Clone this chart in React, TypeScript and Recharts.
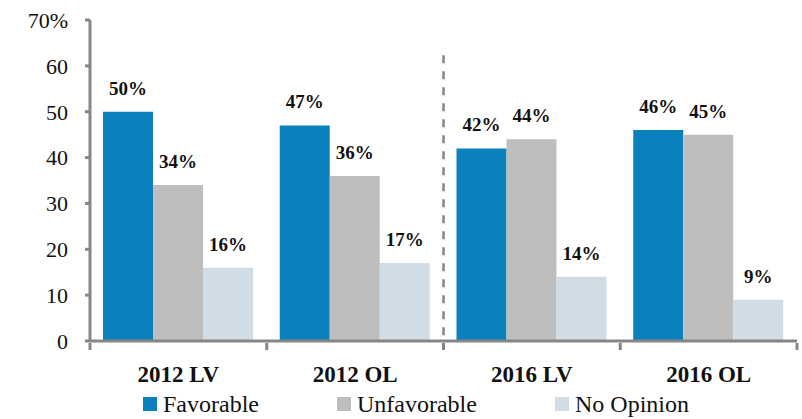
import React from 'react'
import {
  BarChart,
  Bar,
  XAxis,
  YAxis,
  Legend,
  LabelList,
  ReferenceLine,
} from 'recharts'

const categories = ['2012 LV', '2012 OL', '2016 LV', '2016 OL']
const favorable = [50, 47, 42, 46]
const unfavorable = [34, 36, 44, 45]
const noOpinion = [16, 17, 14, 9]
const yTicks = [0, 10, 20, 30, 40, 50, 60, 70]

const series = [
  { key: 'favorable', name: 'Favorable', color: '#0A80BD' },
  { key: 'unfavorable', name: 'Unfavorable', color: '#BEBEBE' },
  { key: 'noOpinion', name: 'No Opinion', color: '#D0DDE7' },
]

const data = categories.map((cat, i) => ({
  cat,
  favorable: favorable[i],
  unfavorable: unfavorable[i],
  noOpinion: noOpinion[i],
}))

const FONT = '"Liberation Serif", "DejaVu Serif", serif'
const AXIS = '#868686'
const W = 802
const H = 419
const MARGIN = { top: 20, right: 5, left: 0, bottom: 0 }
const Y_WIDTH = 90
const BAND = (W - MARGIN.left - MARGIN.right - Y_WIDTH) / categories.length
const LEGEND_ITEM_W = [194, 218, 160]

// tick marks sit on the category boundaries, labels in the middle
function CatTick(props: any) {
  const { x, y, payload, index } = props
  const last = index === categories.length - 1
  return (
    <g>
      <line x1={x - BAND / 2} x2={x - BAND / 2} y1={y - 6} y2={y + 1} stroke={AXIS} strokeWidth={3} />
      {last && (
        <line x1={x + BAND / 2} x2={x + BAND / 2} y1={y - 6} y2={y + 1} stroke={AXIS} strokeWidth={3} />
      )}
      <text x={x} y={y + 33} textAnchor="middle" fontFamily={FONT} fontSize={23} fontWeight="bold" fill="#111">
        {payload.value}
      </text>
    </g>
  )
}

function LegendBox() {
  return (
    <div style={{ display: 'flex', paddingLeft: 143, height: 30, alignItems: 'center', fontFamily: FONT, fontSize: 24, color: '#111' }}>
      {series.map((s, i) => (
        <div key={s.key} style={{ display: 'flex', alignItems: 'center', width: LEGEND_ITEM_W[i], fontFamily: FONT }}>
          <span style={{ width: 14, height: 14, background: s.color, display: 'inline-block', marginRight: 6 }} />
          <span style={{ fontFamily: FONT }}>{s.name}</span>
        </div>
      ))}
    </div>
  )
}

export default function App() {
  return (
    <div style={{ position: 'absolute', left: 0, top: 0, width: W, height: H, background: '#fff' }}>
      <BarChart width={W} height={H} data={data} margin={MARGIN} barCategoryGap={13} barGap={0}>
        <XAxis
          dataKey="cat"
          stroke={AXIS}
          strokeWidth={3}
          tickLine={false}
          tick={<CatTick />}
          height={48}
          interval={0}
        />
        <YAxis
          domain={[0, 70]}
          ticks={yTicks}
          interval={0}
          width={Y_WIDTH}
          stroke={AXIS}
          strokeWidth={3}
          tickSize={5}
          tickMargin={17}
          tickLine={{ stroke: AXIS, strokeWidth: 3 }}
          tick={{ fontFamily: FONT, fontSize: 22, fill: '#111' }}
          tickFormatter={(v: number) => (v === 70 ? '70%' : String(v))}
        />
        <ReferenceLine
          segment={[{ x: '2016 LV', y: 62.3 }, { x: '2016 LV', y: 0 }]}
          position="start"
          stroke={AXIS}
          strokeWidth={2.5}
          strokeDasharray="8 8"
        />
        {series.map((s) => (
          <Bar key={s.key} dataKey={s.key} name={s.name} fill={s.color} isAnimationActive={false}>
            <LabelList
              dataKey={s.key}
              position="top"
              offset={17}
              formatter={(v: any) => `${v}%`}
              style={{ fontFamily: FONT, fontSize: 19, fontWeight: 'bold', fill: '#111' }}
            />
          </Bar>
        ))}
        <Legend verticalAlign="bottom" content={<LegendBox />} />
      </BarChart>
    </div>
  )
}
